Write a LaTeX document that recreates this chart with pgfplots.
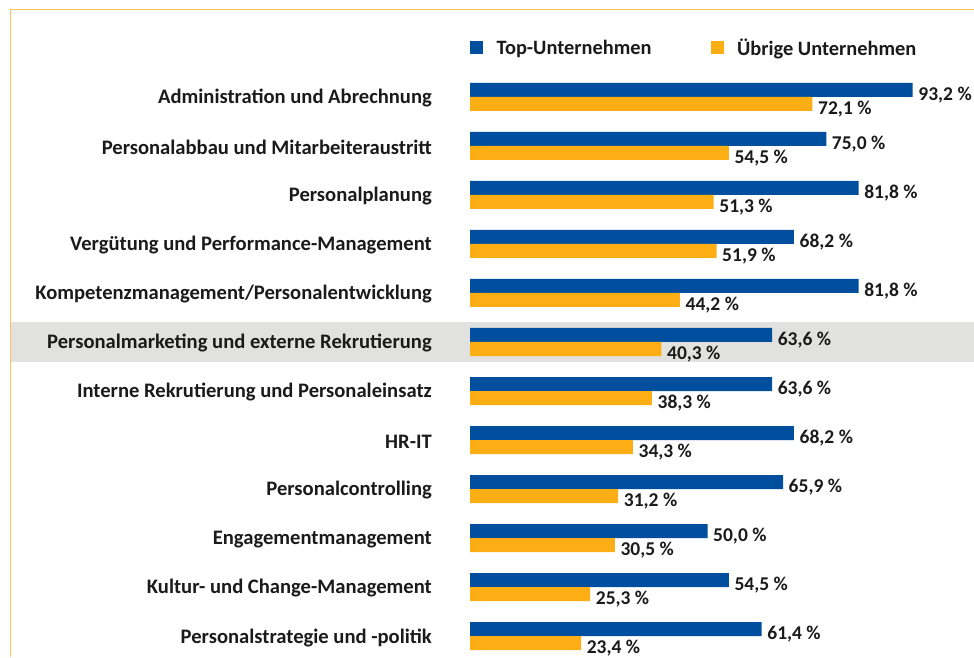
\documentclass[border=0pt]{standalone}
\usepackage{pgfplots}
\pgfplotsset{compat=1.18}
\usepackage{pgfplotstable}
\usepackage{fontspec}
\setmainfont{Carlito}
\definecolor{topblue}{RGB}{0,79,159}
\definecolor{othorange}{RGB}{253,174,21}
\definecolor{bandgray}{RGB}{225,225,223}
\definecolor{framecol}{RGB}{255,196,80}
\definecolor{txt}{RGB}{26,26,26}

\pgfplotstableread{
pos top other
0 93.2 72.1
-1 75.0 54.5
-2 81.8 51.3
-3 68.2 51.9
-4 81.8 44.2
-5 63.6 40.3
-6 63.6 38.3
-7 68.2 34.3
-8 65.9 31.2
-9 50.0 30.5
-10 54.5 25.3
-11 61.4 23.4
}\data

\newcommand{\lblfont}{\fontsize{20.6}{24}\selectfont\bfseries}
\newcommand{\valfont}{\fontsize{19.5}{23}\selectfont\bfseries}
\newcommand{\legfont}{\fontsize{20.4}{24}\selectfont\bfseries}

\begin{document}
\begin{tikzpicture}[x=1pt,y=1pt]
\useasboundingbox (0,0) rectangle (974,657);
\fill[bandgray] (10,295) rectangle (974,335);
\draw[framecol, line width=1.5pt] (10.5,0) -- (10.5,647.5) -- (974,647.5);
\begin{axis}[
  at={(470pt,0pt)}, anchor=south west,
  width=504pt, height=597pt, scale only axis,
  xmin=0, xmax=106.1, ymin=-11.4286, ymax=0.7551,
  xbar, bar width=14pt,
  axis line style={draw=none},
  tick style={draw=none}, major tick length=0pt,
  xtick=\empty,
  ytick={-11,-10,-9,-8,-7,-6,-5,-4,-3,-2,-1,0},
  yticklabels={Personalstrategie und -politik,
    Kultur- und Change-Management,
    Engagementmanagement,
    Personalcontrolling,
    HR-IT,
    Interne Rekrutierung und Personaleinsatz,
    Personalmarketing und externe Rekrutierung,
    Kompetenzmanagement/Personalentwicklung,
    Vergütung und Performance-Management,
    Personalplanung,
    Personalabbau und Mitarbeiteraustritt,
    Administration und Abrechnung},
  yticklabel style={font=\lblfont, text=txt, anchor=east, inner sep=0pt, xshift=-38pt, yshift=-1.5pt},
  /pgf/number format/assume math mode=true,
  nodes near coords={\pgfmathprintnumber[fixed,fixed zerofill,precision=1,use comma]{\pgfplotspointmeta}~\%},
  every node near coord/.append style={font=\valfont, text=txt, anchor=west, inner sep=0pt, xshift=5.5pt, yshift=-4.7pt},
  legend columns=2,
  legend image code/.code={\fill[#1, draw=none] (0pt,-6.5pt) rectangle (13pt,6.5pt);},
  legend style={at={(0,1)}, anchor=west, yshift=12pt, draw=none, fill=none, inner sep=0pt,
    font=\legfont, text=txt,
    nodes={inner sep=0pt},
    /tikz/every odd column/.append style={column sep=13.5pt},
    /tikz/every even column/.append style={column sep=59pt}},
  clip=false,
]
\addplot[fill=topblue, draw=none, bar shift=7pt] table[x=top, y=pos] {\data};
\addplot[fill=othorange, draw=none, bar shift=-7pt] table[x=other, y=pos] {\data};
\legend{Top-Unternehmen, Übrige Unternehmen}
\end{axis}
\end{tikzpicture}
\end{document}
